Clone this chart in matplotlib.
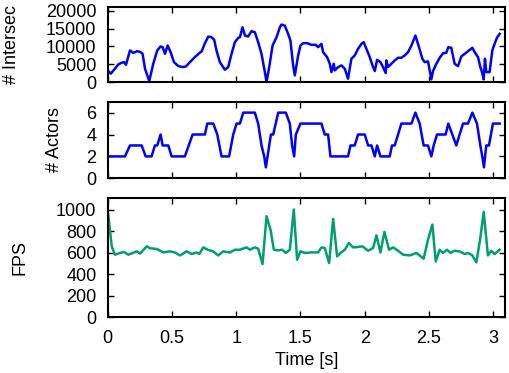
import numpy as np
import matplotlib
matplotlib.use('Agg')
import matplotlib.pyplot as plt

plt.rcParams['font.family'] = ['Liberation Sans', 'DejaVu Sans']
plt.rcParams['font.size'] = 13

# number of intersections over time
t_int = [0.006, 0.024, 0.057, 0.083, 0.109, 0.127, 0.143, 0.174, 0.200, 0.231,
         0.257, 0.272, 0.291, 0.324, 0.355, 0.386, 0.412, 0.428, 0.446, 0.467,
         0.490, 0.516, 0.550, 0.588, 0.609, 0.640, 0.679, 0.713, 0.731, 0.757,
         0.783, 0.809, 0.829, 0.847, 0.873, 0.912, 0.938, 0.964, 0.990, 1.016,
         1.029, 1.049, 1.068, 1.093, 1.119, 1.145, 1.171, 1.197, 1.223, 1.236,
         1.257, 1.283, 1.314, 1.340, 1.352, 1.378, 1.404, 1.422, 1.443, 1.456,
         1.482, 1.500, 1.521, 1.552, 1.586, 1.619, 1.637, 1.663, 1.676, 1.707,
         1.728, 1.741, 1.759, 1.767, 1.793, 1.819, 1.845, 1.870, 1.896, 1.922,
         1.948, 1.974, 1.992, 2.018, 2.039, 2.060, 2.078, 2.096, 2.122, 2.142,
         2.163, 2.168, 2.181, 2.207, 2.233, 2.259, 2.285, 2.311, 2.337, 2.363,
         2.394, 2.422, 2.448, 2.466, 2.492, 2.518, 2.531, 2.557, 2.583, 2.609,
         2.634, 2.650, 2.673, 2.699, 2.725, 2.751, 2.777, 2.803, 2.837, 2.855,
         2.881, 2.899, 2.912, 2.925, 2.935, 2.945, 2.971, 2.992, 3.010, 3.028,
         3.049]
intersec = [3080, 2340, 3730, 4940, 5400, 5590, 4850, 8840, 8190, 8660,
            8380, 7910, 3730, 290, 5120, 8840, 9960, 9770, 7910, 10240,
            8380, 5590, 4470, 4190, 4380, 5590, 6980, 8100, 8570, 10890,
            12750, 12560, 11820, 8840, 5590, 3450, 4190, 7910, 11170, 12380,
            12560, 15350, 13030, 12750, 14240, 13960, 11170, 7910, 2800, 0,
            4190, 10240, 12560, 15350, 16100, 15820, 13500, 11630, 4660, 1870,
            7450, 10240, 10890, 10890, 10430, 10430, 9770, 10700, 8380, 6980,
            5120, 2800, 5120, 3260, 4190, 4660, 3730, 940, 6520, 7450,
            9310, 10700, 11170, 8840, 6980, 4660, 3080, 6240, 5590, 4190,
            2520, 6050, 4190, 5120, 6050, 6800, 6800, 7450, 8380, 10240,
            13030, 9770, 6520, 5590, 5780, 750, 3080, 5120, 6800, 8100,
            8190, 9770, 9590, 5120, 4470, 7170, 7910, 8660, 9590, 8380,
            6980, 4190, 2800, 750, 6520, 2800, 2800, 8840, 10700, 12380,
            13500]

# number of actors
t_act = [0.0, 0.135, 0.174, 0.265, 0.296, 0.342, 0.368, 0.386, 0.412, 0.428,
         0.472, 0.498, 0.601, 0.661, 0.757, 0.775, 0.822, 0.853, 0.886, 0.945,
         0.977, 1.003, 1.029, 1.055, 1.145, 1.171, 1.197, 1.218, 1.231, 1.244,
         1.257, 1.270, 1.288, 1.327, 1.386, 1.417, 1.435, 1.451, 1.464, 1.500,
         1.663, 1.689, 1.715, 1.733, 1.870, 1.889, 1.922, 1.948, 2.000, 2.026,
         2.052, 2.078, 2.096, 2.122, 2.194, 2.212, 2.233, 2.259, 2.285, 2.363,
         2.394, 2.427, 2.458, 2.492, 2.518, 2.536, 2.562, 2.629, 2.650, 2.681,
         2.712, 2.738, 2.764, 2.803, 2.837, 2.873, 2.899, 2.914, 2.927, 2.945,
         2.966, 2.997, 3.049]
actors = [2, 2, 3, 3, 2, 2, 3, 3, 4, 3,
          3, 2, 2, 4, 4, 5, 5, 4, 2, 2,
          4, 5, 5, 6, 6, 5, 3, 2, 1, 2,
          3, 4, 4, 6, 6, 5, 3, 2, 4, 5,
          5, 4, 4, 2, 2, 3, 3, 4, 4, 3,
          3, 2, 3, 2, 2, 3, 3, 4, 5, 5,
          6, 5, 3, 3, 2, 3, 4, 4, 5, 4,
          3, 4, 5, 5, 6, 5, 3, 2, 1, 3,
          3, 5, 5]

# frames per second
t_fps = [0.005, 0.032, 0.057, 0.096, 0.127, 0.161, 0.195, 0.226, 0.252, 0.304,
         0.329, 0.382, 0.433, 0.485, 0.524, 0.563, 0.615, 0.653, 0.692, 0.713,
         0.744, 0.780, 0.821, 0.860, 0.899, 0.951, 0.990, 1.029, 1.081, 1.106,
         1.145, 1.171, 1.205, 1.236, 1.267, 1.293, 1.326, 1.357, 1.386, 1.417,
         1.448, 1.474, 1.500, 1.534, 1.586, 1.637, 1.664, 1.689, 1.723, 1.754,
         1.785, 1.811, 1.845, 1.876, 1.909, 1.936, 1.982, 2.026, 2.065, 2.091,
         2.122, 2.153, 2.189, 2.220, 2.259, 2.298, 2.350, 2.402, 2.458, 2.492,
         2.526, 2.552, 2.583, 2.608, 2.640, 2.666, 2.699, 2.738, 2.777, 2.803,
         2.837, 2.868, 2.899, 2.925, 2.958, 2.984, 3.010, 3.049]
fps = [954, 658, 580, 596, 605, 580, 596, 611, 590, 658,
       640, 633, 601, 611, 600, 573, 611, 586, 600, 586,
       648, 625, 611, 573, 611, 600, 626, 626, 648, 626,
       648, 636, 493, 938, 813, 626, 620, 626, 596, 626,
       1000, 533, 611, 596, 601, 601, 648, 642, 502, 913,
       564, 596, 626, 689, 648, 650, 658, 617, 642, 760,
       601, 792, 626, 648, 617, 580, 573, 596, 542, 720,
       860, 517, 626, 596, 626, 596, 617, 610, 586, 596,
       573, 508, 736, 979, 573, 617, 586, 626]

fig = plt.figure(figsize=(5.1, 3.73), dpi=100)
left, width = 0.211, 0.779
ax1 = fig.add_axes([left, 0.780, width, 0.201])
ax2 = fig.add_axes([left, 0.522, width, 0.2054])
ax3 = fig.add_axes([left, 0.150, width, 0.320])

ax1.plot(t_int, intersec, color='#0000ff', lw=1.8)
ax2.plot(t_act, actors, color='#0000ff', lw=1.8)
ax3.plot(t_fps, fps, color='#009e73', lw=1.8)

ax1.set_ylim(0, 21000)
ax1.set_yticks(np.arange(0, 20001, 5000))
ax2.set_ylim(0, 7)
ax2.set_yticks([0, 2, 4, 6])
ax3.set_ylim(0, 1110)
ax3.set_yticks(np.arange(0, 1001, 200))

for ax in (ax1, ax2, ax3):
    ax.set_xlim(0, 3.09)
    ax.set_xticks([0, 0.5, 1, 1.5, 2, 2.5, 3])
    ax.set_xticklabels(['0', '0.5', '1', '1.5', '2', '2.5', '3'])
    ax.tick_params(direction='in', length=4, width=1, top=True, right=True,
                   pad=8)
    ax.tick_params(axis='x', pad=9)
    for s in ax.spines.values():
        s.set_linewidth(1.5)
for ax in (ax1, ax2):
    ax.tick_params(labelbottom=False)

ax1.set_ylabel('# Intersec', va='center')
ax1.yaxis.set_label_coords(-0.243, 0.5)
ax2.set_ylabel('# Actors', va='center')
ax2.yaxis.set_label_coords(-0.133, 0.5)
ax3.set_ylabel('FPS', va='center')
ax3.yaxis.set_label_coords(-0.22, 0.5)
ax3.set_xlabel('Time [s]', labelpad=4)

fig.savefig('out.png', dpi=100)
